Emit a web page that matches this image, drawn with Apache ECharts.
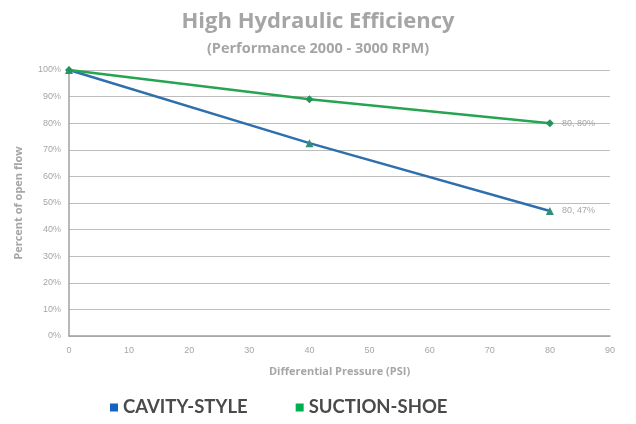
<!DOCTYPE html>
<html>
<head>
<meta charset="utf-8">
<script src="https://cdn.jsdelivr.net/npm/echarts@6/dist/echarts.min.js"></script>
<style>
  html, body { margin: 0; padding: 0; background: #fff; }
  #chart { width: 636px; height: 424px; }
</style>
</head>
<body>
<div id="chart"></div>
<script>
// data
const pressure = [0, 40, 80]
const cavityStyle = [100, 72.5, 47]
const suctionShoe = [100, 89, 80]
const seriesNames = ['CAVITY-STYLE', 'SUCTION-SHOE']
const legendColors = ['#1565c0', '#00b050']

const toPoints = (ys) => pressure.map((x, i) => [x, ys[i]])

const endLabel = {
  show: true,
  position: 'right',
  distance: 8,
  fontSize: 9,
  color: '#a6a6a6',
  fontFamily: 'Liberation Sans',
  formatter: (p) => p.dataIndex === pressure.length - 1 ? p.value[0] + ', ' + Math.round(p.value[1]) + '%' : ''
}

const chart = echarts.init(document.getElementById('chart'))
chart.setOption({
  animation: false,
  title: {
    text: 'High Hydraulic Efficiency',
    subtext: '(Performance 2000 - 3000 RPM)',
    left: 'center',
    top: 6,
    itemGap: 8,
    textStyle: { fontSize: 22, fontWeight: 'bold', color: '#a5a5a5', fontFamily: 'Open Sans' },
    subtextStyle: { fontSize: 14.5, fontWeight: 'bold', color: '#a5a5a5', fontFamily: 'Open Sans' }
  },
  legend: {
    bottom: 2,
    left: 105,
    itemGap: 48,
    itemWidth: 8,
    itemHeight: 8,
    icon: 'rect',
    textStyle: { fontSize: 18.5, fontWeight: 'bold', color: '#4a4a4a', fontFamily: 'Lato' },
    data: seriesNames.map((n, i) => ({ name: n, itemStyle: { color: legendColors[i] } }))
  },
  grid: { left: 69, right: 26, top: 70, bottom: 88 },
  xAxis: {
    type: 'value',
    min: 0,
    max: 90,
    interval: 10,
    name: 'Differential Pressure (PSI)',
    nameLocation: 'middle',
    nameGap: 30,
    nameTextStyle: { fontSize: 11, fontWeight: 'bold', color: '#a6a6a6', fontFamily: 'Open Sans' },
    axisLine: { lineStyle: { color: '#a0a0a0', width: 1.5 } },
    axisTick: { show: false },
    splitLine: { show: false },
    axisLabel: { fontSize: 9, color: '#a6a6a6', margin: 10, fontFamily: 'Liberation Sans' }
  },
  yAxis: {
    type: 'value',
    min: 0,
    max: 100,
    interval: 10,
    name: 'Percent of open flow',
    nameLocation: 'middle',
    nameGap: 45,
    nameTextStyle: { fontSize: 11, fontWeight: 'bold', color: '#a6a6a6', fontFamily: 'Open Sans' },
    axisLine: { show: true, lineStyle: { color: '#a0a0a0', width: 1.5 } },
    axisTick: { show: false },
    splitLine: { lineStyle: { color: '#bdbdbd', width: 1.2 } },
    axisLabel: { fontSize: 9, color: '#a6a6a6', margin: 8, formatter: '{value}%', fontFamily: 'Liberation Sans' }
  },
  series: [
    {
      name: seriesNames[0],
      type: 'line',
      data: toPoints(cavityStyle),
      symbol: 'triangle',
      symbolSize: 8,
      lineStyle: { color: '#2e6fae', width: 2.5 },
      itemStyle: { color: '#2e8f7a' },
      label: endLabel
    },
    {
      name: seriesNames[1],
      type: 'line',
      data: toPoints(suctionShoe),
      symbol: 'diamond',
      symbolSize: 8,
      lineStyle: { color: '#27a451', width: 2.5 },
      itemStyle: { color: '#22935a' },
      label: endLabel
    }
  ]
})
</script>
</body>
</html>
